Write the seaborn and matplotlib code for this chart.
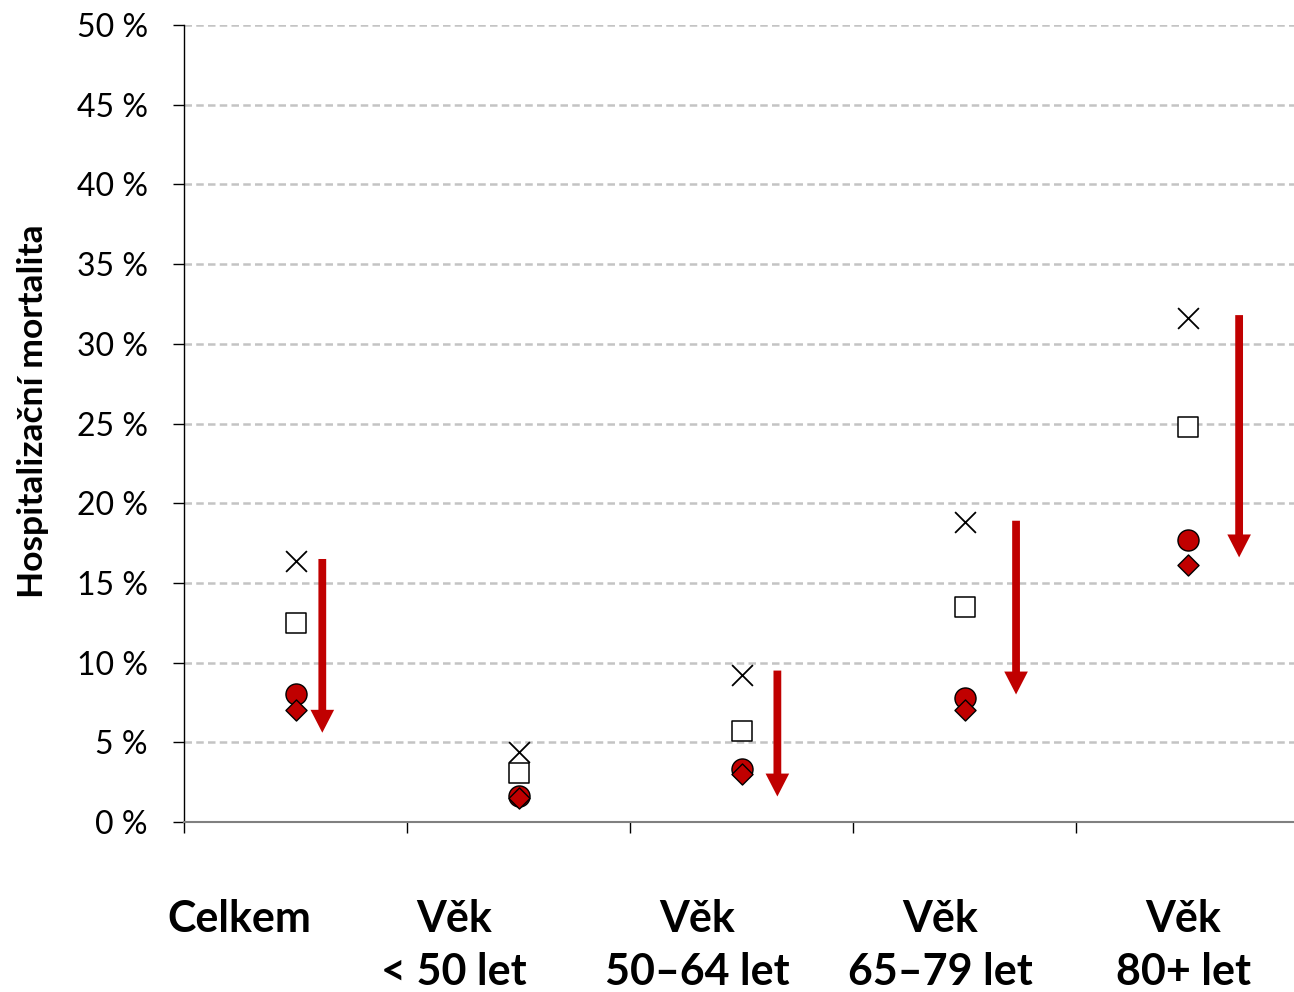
import numpy as np
import pandas as pd
import matplotlib
matplotlib.use("Agg")
import matplotlib.pyplot as plt
import matplotlib.transforms as mtransforms
import seaborn as sns

# ---- data ----
categories = ["Celkem", "Věk\n< 50 let", "Věk\n50–64 let", "Věk\n65–79 let", "Věk\n80+ let"]
series_x = [16.4, 4.4, 9.2, 18.8, 31.6]        # cross markers
series_square = [12.5, 3.1, 5.7, 13.5, 24.8]   # open squares
series_circle = [8.0, 1.6, 3.3, 7.8, 17.7]     # red circles
series_diamond = [7.0, 1.5, 3.0, 7.0, 16.1]    # red diamonds
arrow_cats = [0, 2, 3, 4]
arrow_start = [16.5, 9.5, 18.9, 31.8]
arrow_end = [5.6, 1.6, 8.0, 16.6]
y_ticks = [0, 5, 10, 15, 20, 25, 30, 35, 40, 45, 50]
y_ticklabels = [f"{v} %" for v in y_ticks]
y_label = "Hospitalizační mortalita"

# ---- layout ----
arrow_dx = [0.12, 0.16, 0.23, 0.23]
label_dx = [-0.25, -0.29, -0.20, -0.11, -0.02]
RED = "#C00000"

sns.set_style("white")
plt.rcParams["font.family"] = ["Lato", "DejaVu Sans"]
plt.rcParams["text.color"] = "black"
plt.rcParams["axes.labelcolor"] = "black"

fig = plt.figure(figsize=(12.94, 9.92), dpi=100)
ax = fig.add_axes([184 / 1294, 1 - 822 / 992, 1 - 184 / 1294, (822 - 25) / 992])

idx = np.arange(len(categories))
df = pd.DataFrame({"idx": idx, "x": series_x, "sq": series_square,
                   "ci": series_circle, "di": series_diamond})

sns.scatterplot(data=df, x="idx", y="x", marker="x", s=225, color="black",
                linewidth=1.3, ax=ax, zorder=4)
sns.scatterplot(data=df, x="idx", y="sq", marker="s", s=215, facecolor="white",
                edgecolor="black", linewidth=1.1, ax=ax, zorder=4)
sns.scatterplot(data=df, x="idx", y="ci", marker="o", s=230, color=RED,
                edgecolor="black", linewidth=1.0, ax=ax, zorder=4)
sns.scatterplot(data=df, x="idx", y="di", marker="D", s=115, color=RED,
                edgecolor="black", linewidth=1.0, ax=ax, zorder=5)

for c, s0, s1, dx in zip(arrow_cats, arrow_start, arrow_end, arrow_dx):
    ax.annotate("", xy=(c + dx, s1), xytext=(c + dx, s0),
                arrowprops=dict(facecolor=RED, edgecolor="none", width=5.6,
                                headwidth=17, headlength=16.5, shrink=0),
                zorder=3)

ax.set_xlim(-0.5, 4.476)
ax.set_ylim(0, 50)
ax.set_yticks(y_ticks)
ax.set_yticklabels(y_ticklabels, fontsize=23, color="black")
ax.set_xticks(np.arange(len(categories)) - 0.5)
ax.set_xticklabels([""] * len(categories))
ax.tick_params(axis="y", direction="out", length=8, width=1, pad=18,
               colors="black", left=True)
ax.tick_params(axis="x", direction="out", length=8, width=1,
               colors="black", bottom=True)
ax.set_xlabel("")
ax.set_ylabel(y_label, fontsize=25.5, fontweight="bold", color="black")
ax.yaxis.set_label_coords(-0.122, 0.516)

ax.grid(axis="y", color="#C4C4C4", linestyle=(0, (3.0, 1.7)), linewidth=1.8)
ax.grid(axis="x", visible=False)
ax.set_axisbelow(True)
for side in ["top", "right"]:
    ax.spines[side].set_visible(False)
ax.spines["left"].set_color("black")
ax.spines["left"].set_linewidth(1)
ax.spines["bottom"].set_color("#808080")
ax.spines["bottom"].set_linewidth(1.5)

trans = mtransforms.blended_transform_factory(ax.transData, ax.transAxes)
for i, (lab, dx) in enumerate(zip(categories, label_dx)):
    ax.text(i + dx, -0.097, lab, transform=trans, ha="center", va="top",
            fontsize=31, fontweight="bold", linespacing=1.38, color="black",
            clip_on=False)

fig.savefig("out.png", dpi=100)
